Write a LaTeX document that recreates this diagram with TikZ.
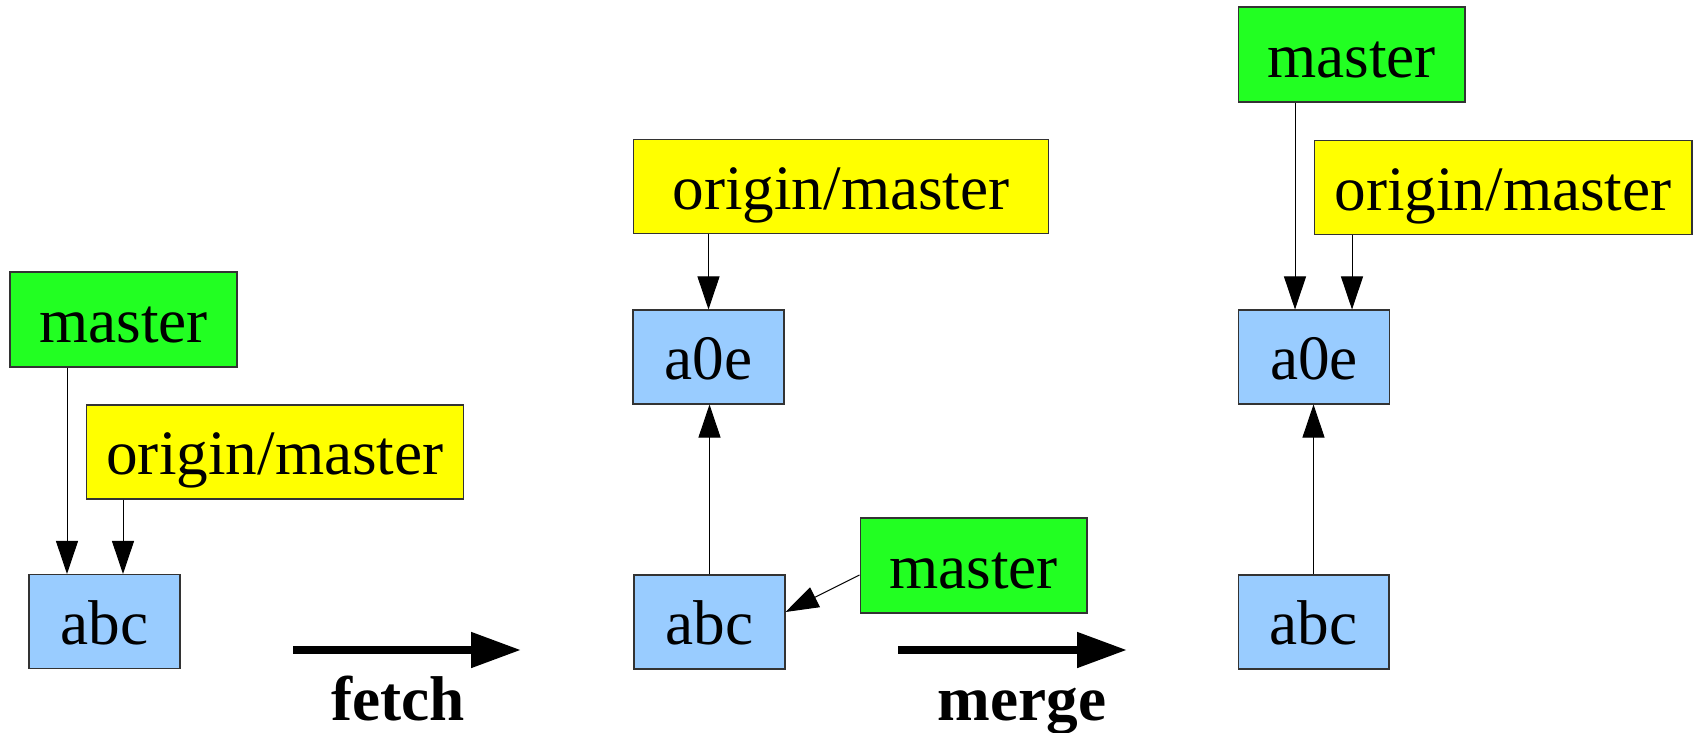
\documentclass[tikz,border=0pt]{standalone}
\usepackage{fontspec}
\usepackage{xcolor}
\usepackage{tikz}
\usetikzlibrary{calc,positioning,arrows.meta}
\setmainfont{Liberation Serif}
\definecolor{BranchGreen}{HTML}{22FF22}
\definecolor{RemoteYellow}{HTML}{FFFF00}
\definecolor{CommitBlue}{HTML}{99CCFF}
\definecolor{EdgeGray}{HTML}{333333}

\tikzset{
  box/.style={draw=EdgeGray,line width=0.6pt,inner sep=0pt,
    font=\rmfamily\fontsize{36}{43}\selectfont,text height=34pt,text depth=8pt},
  commit/.style={box,fill=CommitBlue,minimum width=3.02cm,minimum height=1.88cm},
  branch/.style={box,fill=BranchGreen,minimum width=4.54cm,minimum height=1.9cm},
  remote/.style={box,fill=RemoteYellow,minimum width=7.56cm,minimum height=1.88cm},
  link/.style={black,line width=0.55pt,-{Triangle[length=0.66cm,width=0.44cm]}},
  step arrow/.style={black,line width=0.16cm,-{Triangle[length=1cm,width=0.68cm]}},
  caption/.style={font=\rmfamily\fontsize{36}{43}\selectfont\bfseries,anchor=base}
}

\begin{document}
\begin{tikzpicture}[x=0.02cm,y=-0.02cm]
  \useasboundingbox (0,0) rectangle (1694,733);

  % before fetch
  \node[branch] (m1) at (123.5,319.5) {master};
  \node[remote] (o1) at (275,452) {origin/master};
  \node[commit] (c1) at (104.5,621.5) {abc};
  \draw[link] (m1.south -| 67,0) -- (c1.north -| 67,0);
  \draw[link] (o1.south -| 123,0) -- (c1.north -| 123,0);

  % after fetch
  \node[remote,minimum width=8.32cm] (o2) at (841,186.5) {origin/master};
  \node[commit] (a2) at (708.5,357) {a0e};
  \node[commit] (c2) at (709.5,622) {abc};
  \node[branch] (m2) at (973.5,565.5) {master};
  \draw[link] (o2.south -| a2.north) -- (a2.north);
  \draw[link] (c2.north) -- (c2.north |- a2.south);
  \draw[link] ([yshift=-0.19cm]m2.west) -- ([yshift=0.2cm]c2.east);

  % after merge
  \node[branch] (m3) at (1351.5,54.5) {master};
  \node[remote] (o3) at (1503,187.5) {origin/master};
  \node[commit] (a3) at (1314,357) {a0e};
  \node[commit] (c3) at (1313.5,622) {abc};
  \draw[link] (m3.south -| 1295,0) -- (a3.north -| 1295,0);
  \draw[link] (o3.south -| 1352,0) -- (a3.north -| 1352,0);
  \draw[link] (c3.north) -- (c3.north |- a3.south);

  % steps
  \coordinate (f0) at (293,650);
  \coordinate (f1) at (521,650);
  \draw[step arrow] (f0) -- (f1);
  \node[caption] (fetch) at (398,720) {fetch};
  \coordinate (g0) at (898,650);
  \coordinate (g1) at (1127,650);
  \draw[step arrow] (g0) -- (g1);
  \node[caption] (merge) at (1022,720) {merge};
\end{tikzpicture}
\end{document}
